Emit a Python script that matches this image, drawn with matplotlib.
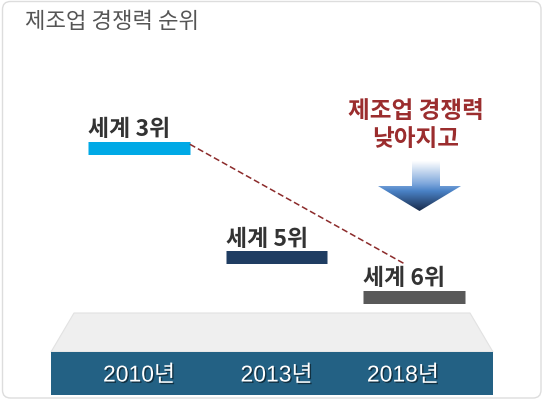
import numpy as np
import matplotlib
matplotlib.use("Agg")
import matplotlib.pyplot as plt
from matplotlib.patches import Polygon, FancyBboxPatch, Rectangle
from matplotlib.colors import LinearSegmentedColormap
import matplotlib.patheffects as pe

plt.rcParams['font.family'] = ['Noto Sans CJK KR', 'DejaVu Sans']

# manufacturing competitiveness ranking
years = ["2010년", "2013년", "2018년"]
ranks = [3, 5, 6]
bar_colors = ["#00a9e6", "#1f3d62", "#595959"]

title = "제조업 경쟁력 순위"
callout = "제조업 경쟁력\n낮아지고"

W, H = 544, 402
fig = plt.figure(figsize=(W / 100, H / 100), dpi=100)

# background layer in pixel units for the frame, platform and arrow
bg = fig.add_axes([0, 0, 1, 1])
bg.set_xlim(0, W)
bg.set_ylim(H, 0)
bg.axis("off")

frame = FancyBboxPatch((2.5, 2.5), W - 5.5, H - 5.5,
                       boxstyle="round,pad=0,rounding_size=8",
                       facecolor="white", edgecolor="#dddddd", linewidth=1.0,
                       zorder=0)
bg.add_patch(frame)

bg.text(25, 22, title, fontsize=16, color="#555555", va="center", ha="left")

# platform: light top face and dark front face
top_face = Polygon([(74, 314), (470, 314), (493, 353), (51, 353)], closed=True,
                   facecolor="#efefef", edgecolor="#e2e2e2", linewidth=0.8)
bg.add_patch(top_face)
front = Rectangle((51, 353), 442, 43, facecolor="#236184", edgecolor="none")
bg.add_patch(front)

# down arrow with a white -> blue -> navy gradient
arrow = Polygon([(412, 162), (440, 162), (440, 187), (461, 187), (419.5, 212),
                 (378, 187), (412, 187)], closed=True, facecolor="none",
                edgecolor="none")
bg.add_patch(arrow)
cmap = LinearSegmentedColormap.from_list(
    "arrow", [(0, "#ffffff"), (0.45, "#7fa8dc"), (0.6, "#4a82c6"), (1, "#182a4a")])
grad = np.linspace(0, 1, 256).reshape(-1, 1)
img = bg.imshow(grad, cmap=cmap, extent=[378, 461, 212, 162], aspect="auto",
                interpolation="bicubic", zorder=2)
img.set_clip_path(arrow)

bg.text(416, 125, callout, fontsize=17, fontweight="bold", color="#9b2d2e",
        ha="center", va="center", linespacing=1.2)

# ranking bars: x = category, y = rank (log scale, inverted)
ax = fig.add_axes([70.25 / W, (H - 320) / H, 412.5 / W, 220 / H])
ax.set_yscale("log")
ax.set_xlim(-0.5, 2.5)
ax.set_ylim(6.661, 2.394)
ax.axis("off")
ax.patch.set_alpha(0)

half = 0.37
bar_lw = 13 * 72 / 100
x = np.arange(len(ranks))
for i, (r, c) in enumerate(zip(ranks, bar_colors)):
    ax.hlines(r, i - half, i + half, colors=c, linewidth=bar_lw,
              capstyle="butt")
    ax.annotate(f"세계 {r}위", xy=(i - half, r), xytext=(0, 8.8),
                textcoords="offset points", fontsize=16.5, fontweight="bold",
                color="#333333", ha="left", va="baseline")

# dashed trend line from first bar end toward the last bar end
frac = 0.78
x0, y0 = x[0] + half, ranks[0]
x1 = x0 + frac * (x[-1] - x[0])
y1 = ranks[0] * (ranks[-1] / ranks[0]) ** frac
ax.plot([x0, x1], [y0 * 0.985, y1], color="#8c2b2b", linestyle=(0, (4, 2)),
        linewidth=1.1)

# year labels on the platform front
shadow = [pe.withSimplePatchShadow(offset=(1, -1), shadow_rgbFace="black",
                                   alpha=0.5)]
label_dx = [0, 0, -8]
for i, yr in enumerate(years):
    t = ax.annotate(yr, xy=(x[i], 0), xycoords=("data", "figure fraction"),
                    xytext=(label_dx[i], (H - 376) * 0.72),
                    textcoords="offset points", fontsize=16.5, color="white",
                    ha="center", va="center",
                    family=["Liberation Sans", "Noto Sans CJK KR"])
    t.set_path_effects(shadow)

fig.savefig("out.png", dpi=100)
